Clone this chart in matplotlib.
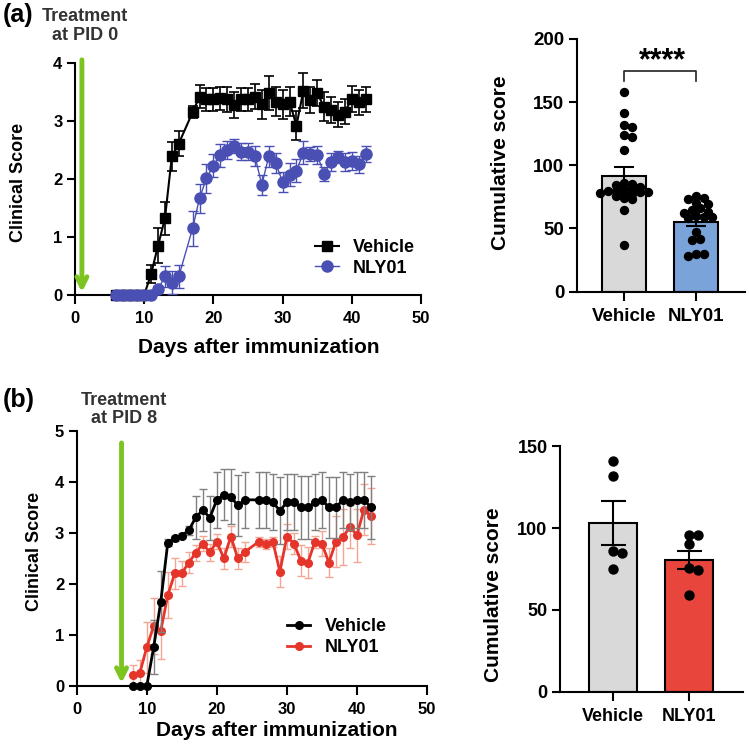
import numpy as np
import matplotlib
matplotlib.use('Agg')
import matplotlib.pyplot as plt

plt.rcParams['font.family'] = ['Liberation Sans', 'DejaVu Sans']
plt.rcParams['font.weight'] = 'bold'
plt.rcParams['axes.labelweight'] = 'bold'

# ---- data (a): treatment at PID 0 ----
days_a = [6, 7, 8, 9, 10, 11, 12, 13, 14, 15] + list(range(17, 43))
veh_a = [0, 0, 0, 0, 0, 0.36, 0.85, 1.32, 2.39, 2.61,
         3.15, 3.42, 3.37, 3.37, 3.39, 3.37, 3.27, 3.37, 3.37, 3.42, 3.29, 3.48, 3.33,
         3.29, 3.33, 2.92, 3.52, 3.36, 3.48, 3.24, 3.19, 3.11, 3.16, 3.38, 3.32, 3.37]
veh_a_err = [0, 0, 0, 0, 0, 0.15, 0.3, 0.28, 0.25, 0.22,
             0.1, 0.2, 0.2, 0.2, 0.2, 0.22, 0.22, 0.2, 0.2, 0.22, 0.25, 0.3, 0.25,
             0.25, 0.25, 0.25, 0.3, 0.22, 0.22, 0.25, 0.22, 0.22, 0.22, 0.22, 0.22, 0.22]
nly_a = [0, 0, 0, 0, 0, 0, 0.1, 0.32, 0.21, 0.32,
         1.15, 1.67, 2.01, 2.23, 2.41, 2.5, 2.56, 2.47, 2.47, 2.39, 1.9, 2.39, 2.27,
         1.95, 2.07, 2.14, 2.45, 2.43, 2.41, 2.09, 2.29, 2.38, 2.29, 2.31, 2.25, 2.43]
nly_a_err = [0, 0, 0, 0, 0, 0, 0.05, 0.18, 0.2, 0.2,
             0.3, 0.25, 0.25, 0.2, 0.2, 0.15, 0.12, 0.15, 0.15, 0.17, 0.17, 0.18, 0.17,
             0.17, 0.2, 0.2, 0.2, 0.12, 0.15, 0.12, 0.15, 0.1, 0.15, 0.15, 0.15, 0.13]

groups = ['Vehicle', 'NLY01']
cum_a_veh = [158, 141, 132, 130, 124, 122, 112, 86, 85, 84, 83, 82, 81, 80, 80,
             79, 79, 78, 78, 77, 76, 74, 73, 65, 37]
cum_a_nly = [76, 74, 73, 70, 69, 66, 65, 63, 62, 60, 59, 59, 58, 47, 42, 41, 30, 30, 28]
cum_a_mean = [91.8, 55.4]
cum_a_sem = [6.5, 3.5]

# ---- data (b): treatment at PID 8 ----
days_b = list(range(8, 25)) + list(range(26, 43))
veh_b = [0, 0, 0, 0.77, 1.65, 2.81, 2.9, 2.95, 3.05, 3.31, 3.45, 3.3, 3.65, 3.75, 3.71, 3.54, 3.65,
         3.65, 3.65, 3.6, 3.44, 3.6, 3.6, 3.5, 3.5, 3.6, 3.65, 3.5, 3.5, 3.65, 3.6, 3.65, 3.65, 3.5]
veh_b_err = [0, 0, 0, 0.53, 0.6, 0.07, 0.05, 0.05, 0.08, 0.42, 0.42, 0.43, 0.55, 0.5, 0.54, 0.6, 0.55,
             0.55, 0.55, 0.55, 0.65, 0.55, 0.55, 0.62, 0.62, 0.55, 0.55, 0.6, 0.6, 0.55, 0.55, 0.55, 0.55, 0.62]
nly_b = [0.21, 0.25, 0.76, 1.18, 1.08, 1.78, 2.21, 2.21, 2.42, 2.61, 2.79, 2.62, 2.83, 2.5, 2.93, 2.5, 2.63,
         2.83, 2.79, 2.83, 2.24, 2.93, 2.79, 2.46, 2.42, 2.83, 2.79, 2.42, 2.83, 2.92, 3.12, 2.96, 3.46, 3.33]
nly_b_err = [0.2, 0.25, 0.5, 0.55, 0.55, 0.45, 0.3, 0.25, 0.2, 0.15, 0.15, 0.17, 0.15, 0.2, 0.2, 0.2, 0.2,
             0.1, 0.1, 0.1, 0.3, 0.25, 0.2, 0.3, 0.3, 0.12, 0.25, 0.28, 0.5, 0.55, 0.42, 0.52, 0.5, 0.55]

cum_b_veh = [141, 132, 86, 85, 75]
cum_b_nly = [95.5, 95.5, 90, 75.7, 74.3, 58.8]
cum_b_mean = [103, 80.5]
cum_b_sem = [13.6, 5.6]

green = '#7cc520'
blue = '#4a4fb3'
red = '#e5352b'


def style_axes(ax, tick_size):
    for s in ['top', 'right']:
        ax.spines[s].set_visible(False)
    for s in ['left', 'bottom']:
        ax.spines[s].set_linewidth(1.5)
    ax.tick_params(axis='y', width=1.5, length=6, labelsize=tick_size, pad=3)
    ax.tick_params(axis='x', width=1.5, length=6.5, labelsize=tick_size, pad=5)


# place dots as a simple swarm (dots may overlap a bit, like the original)
def swarm(ax, x0, vals, dot_px, gap=0.75):
    pix = ax.transData.transform(np.column_stack([np.full(len(vals), x0), vals]))
    placed = []
    xs = []
    step = dot_px * 0.5
    for px, py in pix:
        k = 0
        while True:
            off = ((k + 1) // 2) * step * (1 if k % 2 else -1) if k else 0
            cx = px + off
            if all((cx - qx) ** 2 + (py - qy) ** 2 >= (dot_px * gap) ** 2 for qx, qy in placed):
                break
            k += 1
        placed.append((cx, py))
        xs.append(cx)
    back = ax.transData.inverted().transform(np.column_stack([xs, pix[:, 1]]))
    return back[:, 0]


fig = plt.figure(figsize=(7.49, 7.44), dpi=100)

# ---------- (a) clinical score ----------
ax1 = fig.add_axes([0.1001, 0.6035, 0.462, 0.312])
e1 = ax1.errorbar(days_a, veh_a, yerr=veh_a_err, color='black', marker='s', ms=7, lw=1.5,
                  elinewidth=1.2, capsize=3.5, capthick=1.2, clip_on=False, zorder=3)
e2 = ax1.errorbar(days_a, nly_a, yerr=nly_a_err, color=blue, marker='o', ms=8, lw=1,
                  elinewidth=1, capsize=3.5, capthick=1, clip_on=False, zorder=4)
ax1.annotate('', xy=(1, 0), xytext=(1, 4.1), xycoords='data',
             arrowprops=dict(arrowstyle='->', color=green, lw=3.5, mutation_scale=18),
             annotation_clip=False, zorder=5)
ax1.set_xlim(0, 50)
ax1.set_ylim(0, 4)
ax1.set_xticks([0, 10, 20, 30, 40, 50])
ax1.set_yticks([0, 1, 2, 3, 4])
style_axes(ax1, 12)
ax1.set_xlabel('Days after immunization', fontsize=15)
ax1.xaxis.set_label_coords(0.532, -0.185)
ax1.set_ylabel('Clinical Score', fontsize=13)
ax1.yaxis.set_label_coords(-0.139, 0.487)
ax1.legend([e1[0], e2[0]], groups, loc='center left', bbox_to_anchor=(0.694, 0.16), frameon=False,
           fontsize=13, borderpad=0, borderaxespad=0, handlelength=1.3, handletextpad=0.8,
           labelspacing=0.2)

# ---------- (a) cumulative score ----------
ax2 = fig.add_axes([0.770, 0.608, 0.2247, 0.3397])
ax2.set_xlim(-0.657, 1.68)
ax2.set_ylim(0, 200)
ax2.bar([0, 1], cum_a_mean, width=0.61, color=['#d9d9d9', '#7aa3d9'], edgecolor='black',
        linewidth=1.5, zorder=2)
ax2.errorbar([0, 1], cum_a_mean, yerr=cum_a_sem, fmt='none', ecolor='black', elinewidth=1.5,
             capsize=7, capthick=1.5, zorder=3)
ax2.scatter(swarm(ax2, 0, cum_a_veh, 8, 0.62), cum_a_veh, s=33, color='black', zorder=4, clip_on=False)
ax2.scatter(swarm(ax2, 1, cum_a_nly, 8, 0.8), cum_a_nly, s=33, color='black', zorder=4, clip_on=False)
ax2.plot([0, 0, 1, 1], [166.7, 175, 175, 166.7], color='#222222', lw=1.2)
ax2.text(0.53, 176, '****', ha='center', va='baseline', fontsize=22, fontweight='bold')
ax2.set_xticks([0, 1])
ax2.set_xticklabels(groups)
ax2.set_yticks([0, 50, 100, 150, 200])
style_axes(ax2, 13.5)
ax2.set_ylabel('Cumulative score', fontsize=15)
ax2.yaxis.set_label_coords(-0.396, 0.509)

# ---------- (b) clinical score ----------
ax3 = fig.add_axes([0.1024, 0.078, 0.4677, 0.3427])
e3 = ax3.errorbar(days_b, veh_b, yerr=veh_b_err, color='black', marker='o', ms=5.5, lw=2,
                  ecolor='#808080', elinewidth=1, capsize=3, capthick=1, clip_on=False, zorder=4)
e4 = ax3.errorbar(days_b, nly_b, yerr=nly_b_err, color=red, marker='o', ms=5.5, lw=2,
                  ecolor='#f5a593', elinewidth=1, capsize=3, capthick=1, clip_on=False, zorder=3)
ax3.annotate('', xy=(6.4, 0), xytext=(6.4, 4.82), xycoords='data',
             arrowprops=dict(arrowstyle='->', color=green, lw=3.5, mutation_scale=18),
             annotation_clip=False, zorder=5)
ax3.set_xlim(0, 50)
ax3.set_ylim(0, 5)
ax3.set_xticks([0, 10, 20, 30, 40, 50])
ax3.set_yticks([0, 1, 2, 3, 4, 5])
style_axes(ax3, 12)
ax3.set_xlabel('Days after immunization', fontsize=15)
ax3.xaxis.set_label_coords(0.572, -0.136)
ax3.set_ylabel('Clinical Score', fontsize=13)
ax3.yaxis.set_label_coords(-0.096, 0.529)
ax3.legend([e3[0], e4[0]], groups, loc='center left', bbox_to_anchor=(0.600, 0.192), frameon=False,
           fontsize=13, borderpad=0, borderaxespad=0, handlelength=1.3, handletextpad=0.8,
           labelspacing=0.2)

# ---------- (b) cumulative score ----------
ax4 = fig.add_axes([0.7477, 0.0703, 0.2443, 0.330])
ax4.set_xlim(-0.693, 1.71)
ax4.set_ylim(0, 150)
ax4.bar([0, 1], cum_b_mean, width=0.63, color=['#d9d9d9', '#e8463c'], edgecolor='black',
        linewidth=1.5, zorder=2)
ax4.errorbar([0, 1], cum_b_mean, yerr=cum_b_sem, fmt='none', ecolor='black', elinewidth=1.5,
             capsize=9, capthick=1.5, zorder=3)
ax4.scatter(swarm(ax4, 0, cum_b_veh, 9, 1.0), cum_b_veh, s=42, color='black', zorder=4)
ax4.scatter(swarm(ax4, 1, cum_b_nly, 9, 1.0), cum_b_nly, s=42, color='black', zorder=4)
ax4.set_xticks([0, 1])
ax4.set_xticklabels(groups)
ax4.set_yticks([0, 50, 100, 150])
style_axes(ax4, 13)
ax4.set_ylabel('Cumulative score', fontsize=15)
ax4.yaxis.set_label_coords(-0.313, 0.394)

# panel letters and treatment notes
fig.text(0.004, 1 - 15 / 744, '(a)', fontsize=18, va='center', ha='left')
fig.text(85 / 749, 1 - 26 / 744, 'Treatment\nat PID 0', fontsize=13, ha='center', va='center',
         color='#333333', linespacing=1.15)
fig.text(0.004, 1 - 400 / 744, '(b)', fontsize=18, va='center', ha='left')
fig.text(124 / 749, 1 - 409.5 / 744, 'Treatment\nat PID 8', fontsize=13, ha='center', va='center',
         color='#333333', linespacing=1.15)

fig.savefig('out.png', dpi=100)
